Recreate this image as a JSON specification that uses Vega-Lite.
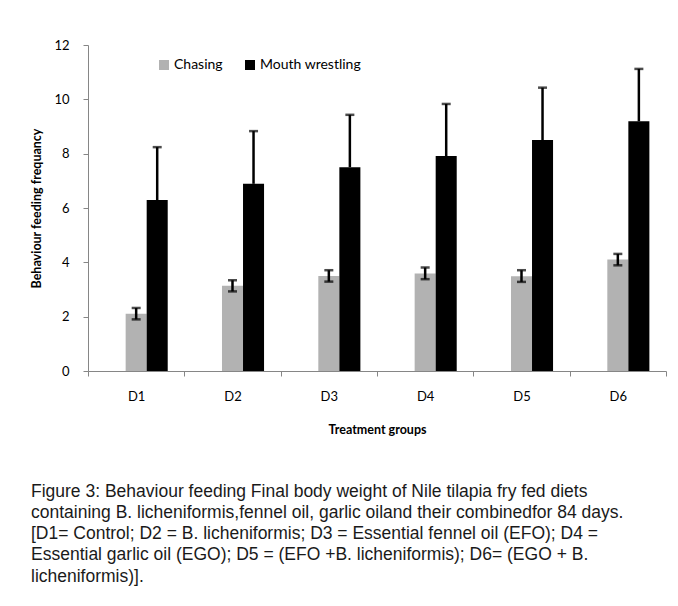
{
  "$schema": "https://vega.github.io/schema/vega-lite/v6.json",
  "width": 578,
  "height": 326,
  "autosize": {"type": "none"},
  "padding": {"left": 88, "top": 45, "right": 12, "bottom": 235},
  "background": "white",
  "config": {"view": {"stroke": null}},
  "data": {
    "values": [
      {"group": "D1", "behaviour": "Chasing", "mean": 2.11, "lo": 1.90, "hi": 2.32},
      {"group": "D1", "behaviour": "Mouth wrestling", "mean": 6.29, "lo": 6.29, "hi": 8.24},
      {"group": "D2", "behaviour": "Chasing", "mean": 3.14, "lo": 2.93, "hi": 3.34},
      {"group": "D2", "behaviour": "Mouth wrestling", "mean": 6.89, "lo": 6.89, "hi": 8.83},
      {"group": "D3", "behaviour": "Chasing", "mean": 3.50, "lo": 3.29, "hi": 3.71},
      {"group": "D3", "behaviour": "Mouth wrestling", "mean": 7.50, "lo": 7.50, "hi": 9.43},
      {"group": "D4", "behaviour": "Chasing", "mean": 3.59, "lo": 3.38, "hi": 3.81},
      {"group": "D4", "behaviour": "Mouth wrestling", "mean": 7.91, "lo": 7.91, "hi": 9.83},
      {"group": "D5", "behaviour": "Chasing", "mean": 3.49, "lo": 3.28, "hi": 3.71},
      {"group": "D5", "behaviour": "Mouth wrestling", "mean": 8.50, "lo": 8.50, "hi": 10.43},
      {"group": "D6", "behaviour": "Chasing", "mean": 4.10, "lo": 3.89, "hi": 4.31},
      {"group": "D6", "behaviour": "Mouth wrestling", "mean": 9.19, "lo": 9.19, "hi": 11.12}
    ]
  },
  "title": {
    "text": [
      "Figure 3: Behaviour feeding Final body weight of Nile tilapia fry fed diets",
      "containing B. licheniformis,fennel oil, garlic oiland their combinedfor 84 days.",
      "[D1= Control; D2 = B. licheniformis; D3 = Essential fennel oil (EFO); D4 =",
      "Essential garlic oil (EGO); D5 = (EFO +B. licheniformis); D6= (EGO + B.",
      "licheniformis)]."
    ],
    "orient": "bottom",
    "anchor": "start",
    "frame": "group",
    "dx": -57,
    "offset": 47,
    "font": "Liberation Sans",
    "fontSize": 17.5,
    "fontWeight": "normal",
    "color": "#1a1a1a",
    "lineHeight": 21.3
  },
  "encoding": {
    "x": {
      "field": "group",
      "type": "nominal",
      "title": "Treatment groups",
      "scale": {"paddingInner": 0, "paddingOuter": 0},
      "axis": {
        "labelAngle": 0,
        "tickBand": "extent",
        "tickSize": 5,
        "tickColor": "#868686",
        "domainColor": "#868686",
        "labelPadding": 14,
        "labelFont": "Lato",
        "labelFontSize": 13,
        "labelColor": "#000000",
        "titleFont": "Lato",
        "titleFontSize": 12.5,
        "titleFontWeight": "bold",
        "titleColor": "#000000",
        "titlePadding": 20
      }
    },
    "xOffset": {
      "field": "behaviour",
      "type": "nominal",
      "scale": {"domain": ["_", "Chasing", "Mouth wrestling"], "paddingInner": 0, "paddingOuter": 0.79}
    }
  },
  "layer": [
    {
      "mark": {"type": "bar"},
      "encoding": {
        "y": {
          "field": "mean",
          "type": "quantitative",
          "title": "Behaviour feeding frequancy",
          "scale": {"domain": [0, 12]},
          "axis": {
            "values": [0, 2, 4, 6, 8, 10, 12],
            "grid": false,
            "tickSize": 5,
            "tickColor": "#868686",
            "domainColor": "#868686",
            "labelPadding": 14,
            "labelFont": "Lato",
            "labelFontSize": 13,
            "labelColor": "#000000",
            "titleFont": "Lato",
            "titleFontSize": 12.5,
            "titleFontWeight": "bold",
            "titleColor": "#000000",
            "titlePadding": 10
          }
        },
        "color": {
          "field": "behaviour",
          "type": "nominal",
          "scale": {"domain": ["Chasing", "Mouth wrestling"], "range": ["#b2b2b2", "#000000"]},
          "legend": {
            "orient": "none",
            "legendX": 69,
            "legendY": 13,
            "direction": "horizontal",
            "title": null,
            "symbolType": "square",
            "symbolSize": 100,
            "symbolStrokeWidth": 0,
            "labelFont": "Lato",
            "labelFontSize": 14,
            "labelColor": "#000000",
            "labelOffset": 3,
            "columnPadding": 20
          }
        }
      }
    },
    {
      "mark": {"type": "rule", "color": "#000000", "strokeWidth": 2.5},
      "encoding": {
        "y": {"field": "lo", "type": "quantitative", "title": "Behaviour feeding frequancy"},
        "y2": {"field": "hi"}
      }
    },
    {
      "mark": {"type": "tick", "color": "#000000", "thickness": 2.5, "size": 9},
      "encoding": {
        "y": {"field": "hi", "type": "quantitative", "title": "Behaviour feeding frequancy"}
      }
    },
    {
      "transform": [{"filter": "datum.behaviour === 'Chasing'"}],
      "mark": {"type": "tick", "color": "#000000", "thickness": 2.5, "size": 9},
      "encoding": {
        "y": {"field": "lo", "type": "quantitative", "title": "Behaviour feeding frequancy"}
      }
    }
  ]
}
